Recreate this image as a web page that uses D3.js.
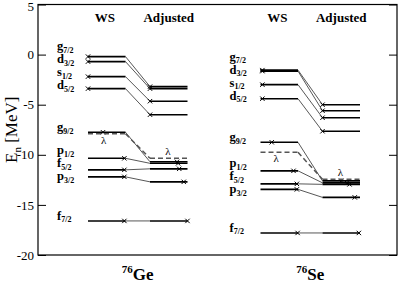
<!DOCTYPE html>
<html><head><meta charset="utf-8">
<script src="https://cdn.jsdelivr.net/npm/d3@7"></script>
<style>body{margin:0;background:#fff}svg{display:block}</style>
</head><body>
<svg id="c" width="399" height="283"></svg>
<script>
// ---- data ----
const orbitals = ["g|7/2","d|3/2","s|1/2","d|5/2","g|9/2","p|1/2","f|5/2","p|3/2","f|7/2"];
const geWS  = [-0.2,-0.7,-2.2,-3.4,-7.75,-10.35,-11.5,-12.2,-16.6];
const geAdj = [-3.2,-3.4,-4.65,-6.0,-10.7,-10.85,-11.4,-12.7,-16.6];
const geLambda = [-7.9,-10.35];
const seWS  = [-1.55,-1.65,-3.0,-4.4,-8.75,-11.6,-12.9,-13.45,-17.8];
const seAdj = [-5.0,-5.6,-6.3,-7.65,-12.6,-12.8,-12.95,-14.25,-17.8];
const seLambda = [-9.75,-12.45];
// marker fraction along each level segment
const geWSmark  = [0,0,0,0,0.4,0.97,0.97,0.97,0.97];
const geAdjmark = [0,0,0,0,0.72,0.75,0.78,0.9,1.0];
const seWSmark  = [0.05,0.05,0.05,0.05,0.3,0.88,0.97,0.97,0.99];
const seAdjmark = [0,0,0,0,0.5,0.65,0.72,0.86,0.97];
const nuclei = [{A:"76",sym:"Ge"},{A:"76",sym:"Se"}];
const yTicks = [5,0,-5,-10,-15,-20];
const headers = ["WS","Adjusted"];

const panels = [
  {ws:geWS, adj:geAdj, lam:geLambda, wsM:geWSmark, adjM:geAdjmark},
  {ws:seWS, adj:seAdj, lam:seLambda, wsM:seWSmark, adjM:seAdjmark}
];

// ---- layout ----
const L=38, R=397, T=4.5, B=255;
const svg = d3.select("#c");
const y = d3.scaleLinear().domain([-20,5]).range([B,T]);
const panelX = d3.scaleLinear().domain([0,1]).range([88,260.5]);
const seg = [0,37.5,62,99.5]; // ws start, ws end, adj start, adj end (offsets)
const serif = "'Liberation Serif','DejaVu Serif',serif";

// axes
const gl = svg.append("g").attr("transform",`translate(${L},0)`);
gl.call(d3.axisLeft(y).tickValues(d3.range(-20,6,1)).tickSize(-4).tickFormat(""));
gl.call(d3.axisLeft(y).tickValues(yTicks).tickSize(-8).tickPadding(4).tickFormat(d=>d));
gl.selectAll(".domain").remove();
gl.selectAll("text").attr("font-family",serif).attr("font-size",13).attr("fill","#000");
gl.selectAll("text").filter(d=>d===5).attr("dy","0.45em");
const gr = svg.append("g").attr("transform",`translate(${R},0)`);
gr.call(d3.axisRight(y).tickValues(d3.range(-20,6,1)).tickSize(-4).tickFormat(""));
gr.call(d3.axisRight(y).tickValues(yTicks).tickSize(-8).tickFormat(""));
gr.selectAll(".domain").remove();
svg.selectAll(".tick line").attr("stroke","#000");
svg.append("rect").attr("x",L).attr("y",T).attr("width",R-L).attr("height",B-T)
  .attr("fill","none").attr("stroke","#000").attr("stroke-width",1.2);

// y title
const yt = svg.append("text").attr("transform",`translate(17,${(T+B)/2}) rotate(-90)`)
  .attr("text-anchor","middle").attr("font-family",serif).attr("font-size",17);
yt.append("tspan").text("E");
yt.append("tspan").attr("font-size",11).attr("dy",4).text("n");
yt.append("tspan").attr("dy",-4).text(" [MeV]");

function cross(g,cx,cy){
  const s=2.2;
  g.append("path").attr("d",`M${cx-s},${cy-s}L${cx+s},${cy+s}M${cx-s},${cy+s}L${cx+s},${cy-s}`)
   .attr("stroke","#000").attr("stroke-width",1);
}

panels.forEach((p,pi)=>{
  const x0 = panelX(pi);
  const g = svg.append("g");
  const xa=x0+seg[0], xb=x0+seg[1], xc=x0+seg[2], xd=x0+seg[3];
  // headers
  g.append("text").attr("x",(xa+xb)/2-2).attr("y",22).attr("text-anchor","middle")
   .attr("font-family",serif).attr("font-weight","bold").attr("font-size",13).text(headers[0]);
  g.append("text").attr("x",(xc+xd)/2).attr("y",22).attr("text-anchor","middle")
   .attr("font-family",serif).attr("font-weight","bold").attr("font-size",13).text(headers[1]);
  // connectors
  p.ws.forEach((v,i)=>{
    g.append("line").attr("x1",xb).attr("x2",xc).attr("y1",y(v)).attr("y2",y(p.adj[i]))
     .attr("stroke","#444").attr("stroke-width",0.9);
  });
  // levels
  p.ws.forEach((v,i)=>{
    g.append("line").attr("x1",xa).attr("x2",xb).attr("y1",y(v)).attr("y2",y(v))
     .attr("stroke","#000").attr("stroke-width",1.6);
    cross(g, xa+(xb-xa)*p.wsM[i], y(v));
  });
  p.adj.forEach((v,i)=>{
    g.append("line").attr("x1",xc).attr("x2",xd).attr("y1",y(v)).attr("y2",y(v))
     .attr("stroke","#000").attr("stroke-width",1.6);
    cross(g, xc+(xd-xc)*p.adjM[i], y(v));
  });
  // lambda
  const dash = {"stroke":"#555","stroke-width":1.5,"stroke-dasharray":"5,3"};
  const lw = g.append("line").attr("x1",xa).attr("x2",xb).attr("y1",y(p.lam[0])).attr("y2",y(p.lam[0]));
  const lc = g.append("line").attr("x1",xb).attr("x2",xc).attr("y1",y(p.lam[0])).attr("y2",y(p.lam[1]));
  const la = g.append("line").attr("x1",xc).attr("x2",xd).attr("y1",y(p.lam[1])).attr("y2",y(p.lam[1]));
  [lw,lc,la].forEach(l=>Object.entries(dash).forEach(([k,v])=>l.attr(k,v)));
  g.append("text").attr("x",xa+(xb-xa)*0.42).attr("y",y(p.lam[0])+10).attr("text-anchor","middle")
   .attr("font-family",serif).attr("font-size",11).text("λ");
  g.append("text").attr("x",xc+(xd-xc)*0.48).attr("y",y(p.lam[1])-3).attr("text-anchor","middle")
   .attr("font-family",serif).attr("font-size",11).text("λ");
  // orbital labels with de-overlap
  const pos = p.ws.map(v=>y(v)-2);
  const gap = 13;
  for(let k=0;k<200;k++){
    for(let i=1;i<pos.length;i++){
      const d = pos[i]-pos[i-1];
      if(d<gap){const sh=(gap-d)/2+0.01; pos[i-1]-=sh; pos[i]+=sh;}
    }
  }
  orbitals.forEach((o,i)=>{
    const [l,sub]=o.split("|");
    const t=g.append("text").attr("x",x0-31).attr("y",pos[i]+1).attr("font-family",serif)
      .attr("font-weight","bold").attr("font-size",12.5);
    t.append("tspan").text(l);
    t.append("tspan").attr("font-size",8).attr("dy",2.5).text(sub);
  });
  // nucleus label
  const nt = g.append("text").attr("x",(xa+xd)/2).attr("y",280).attr("text-anchor","middle")
    .attr("font-family",serif).attr("font-weight","bold").attr("font-size",17);
  nt.append("tspan").attr("font-size",11).attr("dy",-7).text(nuclei[pi].A);
  nt.append("tspan").attr("dy",7).text(nuclei[pi].sym);
});
</script>
</body></html>
